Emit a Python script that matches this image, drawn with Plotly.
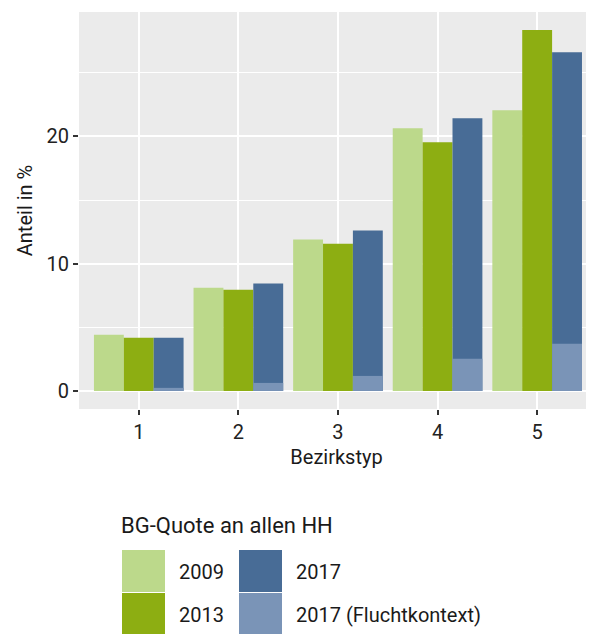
import plotly.graph_objects as go

categories = [1, 2, 3, 4, 5]
v2009 = [4.41, 8.11, 11.89, 20.63, 22.05]
v2013 = [4.17, 7.95, 11.57, 19.53, 28.35]
v2017 = [4.17, 8.43, 12.60, 21.42, 26.61]
v2017_flucht = [0.24, 0.63, 1.18, 2.52, 3.70]
series_names = ["2009", "2013", "2017", "2017 (Fluchtkontext)"]
colors = ["#BCD98B", "#8DAE12", "#486C96", "#7A94B7"]
y_ticks = [0, 10, 20]

BODY = 8  # default page margin
W, H = 594 - BODY, 634 - BODY
ML, MR, MT, MB = 79 - BODY, 0, 12 - BODY, 634 - 409
PW, PH = W - ML - MR, H - MT - MB
FONT = "Roboto"
FS = 20

def px_x(px):
    return (px - BODY - ML) / PW

def px_y(py):
    return (H - MB - (py - BODY)) / PH

fig = go.Figure()
offsets = [-0.45, -0.15, 0.15, 0.15]
for name, vals, col, off in zip(series_names, [v2009, v2013, v2017, v2017_flucht], colors, offsets):
    fig.add_trace(go.Bar(x=categories, y=vals, name=name, marker=dict(color=col, line=dict(width=0)),
                         width=0.3, offset=off, showlegend=False))

fig.update_layout(
    width=W, height=H, barmode="overlay",
    margin=dict(l=ML, r=MR, t=MT, b=MB, pad=0),
    paper_bgcolor="white", plot_bgcolor="#EBEBEB",
    font=dict(family=FONT, size=FS, color="#1a1a1a"),
    xaxis=dict(range=[0.4, 0.4 + PW / 99.6], tickvals=categories, ticktext=[str(c) for c in categories],
               showgrid=True, gridcolor="white", gridwidth=2, zeroline=False,
               ticks="outside", ticklen=5, tickwidth=1.5, tickcolor="#333333",
               tickfont=dict(size=FS, color="#222222"),
               title=dict(text="Bezirkstyp", font=dict(size=FS, color="#1a1a1a"), standoff=6)),
    yaxis=dict(range=[-1.42, 29.77], tickvals=y_ticks,
               showgrid=True, gridcolor="white", gridwidth=2, zeroline=False,
               ticks="outside", ticklen=5, tickwidth=1.5, tickcolor="#333333",
               tickfont=dict(size=FS, color="#222222"),
               minor=dict(dtick=5, tick0=0, showgrid=True, gridcolor="white", gridwidth=1),
               title=dict(text="Anteil in %", font=dict(size=FS, color="#1a1a1a"), standoff=8)),
)

# Manual legend (ggplot-style, two columns)
fig.add_annotation(x=px_x(119), y=px_y(525), xref="paper", yref="paper", text="BG-Quote an allen HH",
                   showarrow=False, xanchor="left", yanchor="middle", font=dict(size=22, color="#1a1a1a"))
key_pos = [(122, 550), (122, 593), (239, 550), (239, 593)]
for (kx, ky), name, col in zip(key_pos, series_names, colors):
    fig.add_shape(type="rect", xref="paper", yref="paper",
                  x0=px_x(kx), x1=px_x(kx + 43), y0=px_y(ky), y1=px_y(ky + 42),
                  fillcolor=col, line=dict(width=0))
    fig.add_annotation(x=px_x(kx + 55), y=px_y(ky + 22), xref="paper", yref="paper", text=name,
                       showarrow=False, xanchor="left", yanchor="middle", font=dict(size=FS, color="#1a1a1a"))

fig.write_html("out.html")
